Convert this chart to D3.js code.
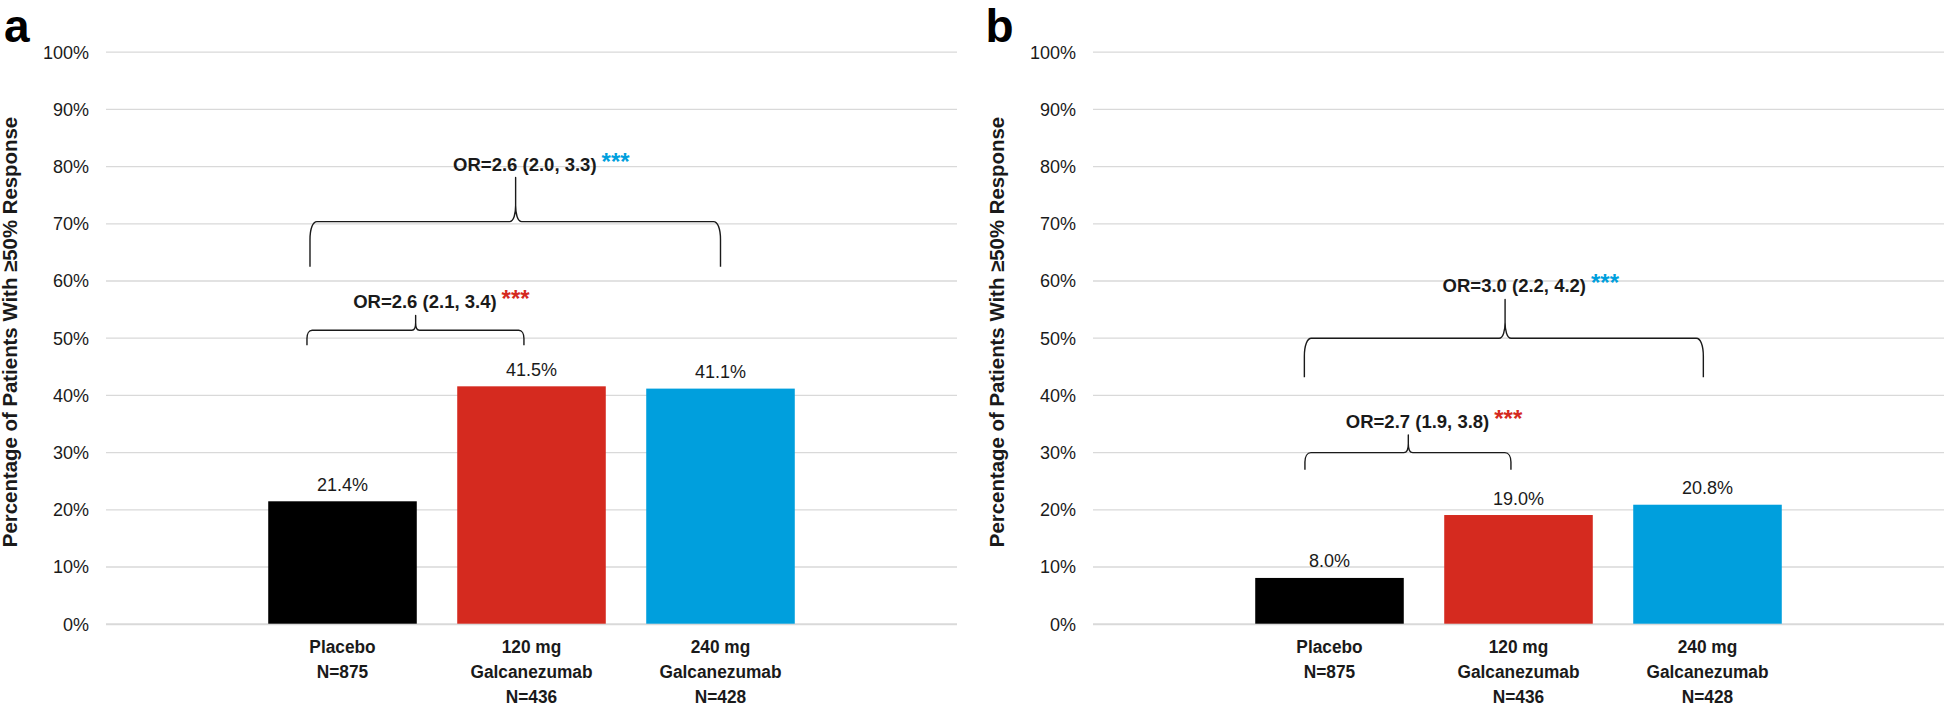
<!DOCTYPE html>
<html>
<head>
<meta charset="utf-8">
<script src="https://cdn.jsdelivr.net/npm/d3@7"></script>
<style>
  html, body { margin: 0; padding: 0; background: #ffffff; }
  svg { display: block; }
</style>
</head>
<body>
<svg id="chart" width="1947" height="709"></svg>
<script>
// ---------------- DATA ----------------
const categories = ["Placebo", "120 mg Galcanezumab", "240 mg Galcanezumab"];
const categoryLines = [["Placebo", "N=875"], ["120 mg", "Galcanezumab", "N=436"], ["240 mg", "Galcanezumab", "N=428"]];
const valuesA = [21.4, 41.5, 41.1];
const valuesB = [8.0, 19.0, 20.8];
const yTickValues = [0, 10, 20, 30, 40, 50, 60, 70, 80, 90, 100];
const yTitle = "Percentage of Patients With \u226550% Response";
const panelLetters = ["a", "b"];
const oddsRatioLabelsA = ["OR=2.6 (2.1, 3.4)", "OR=2.6 (2.0, 3.3)"];
const oddsRatioLabelsB = ["OR=2.7 (1.9, 3.8)", "OR=3.0 (2.2, 4.2)"];
const significanceMarks = ["***", "***"];
const comparedCategory = [1, 2];

// ---------------- STYLE / LAYOUT ----------------
const FONT = "'Liberation Sans', Arial, Helvetica, sans-serif";
const barColors = ["#000000", "#d52a1f", "#009fdd"];
const gridColor = "#d9d9d9";
const textColor = "#1a1a1a";

// brace geometry in (category units, % units)
const braceLayoutA = [
  {x0: -0.188, x1: 0.96, tip: 0.387, yH: 51.3, yEnd: 48.7, yTip: 53.9},
  {x0: -0.172, x1: 2.0, tip: 0.916, yH: 70.3, yEnd: 62.4, yTip: 78.0}
];
const braceLayoutB = [
  {x0: -0.13, x1: 0.96, tip: 0.417, yH: 29.9, yEnd: 26.9, yTip: 33.0},
  {x0: -0.133, x1: 1.978, tip: 0.929, yH: 49.9, yEnd: 43.1, yTip: 56.7}
];

const svg = d3.select("#chart");
const plotTop = 51.7, plotBottom = 623.7, plotWidth = 851;

const y = d3.scaleLinear().domain([0, 100]).range([plotBottom, plotTop]);

function bracePath(xL, xR, xT, yH, yE, yT) {
  const arm = yE - yH, tipLen = yH - yT;
  const r = Math.min(18, arm * 0.55), w = Math.min(7, arm * 0.35);
  const rt = Math.min(16, tipLen * 0.5), wt = Math.min(6, tipLen * 0.25);
  return [
    `M${xL},${yE}`,
    `L${xL},${yH + r}`,
    `C${xL},${yH + r * 0.4} ${xL + w * 0.4},${yH} ${xL + w},${yH}`,
    `L${xT - wt},${yH}`,
    `C${xT - wt * 0.3},${yH} ${xT},${yH - rt * 0.5} ${xT},${yH - rt}`,
    `L${xT},${yT}`,
    `L${xT},${yH - rt}`,
    `C${xT},${yH - rt * 0.5} ${xT + wt * 0.3},${yH} ${xT + wt},${yH}`,
    `L${xR - w},${yH}`,
    `C${xR - w * 0.4},${yH} ${xR},${yH + r * 0.4} ${xR},${yH + r}`,
    `L${xR},${yE}`
  ].join(" ");
}

function drawPanel(opts) {
  const left = opts.left;
  const g = svg.append("g");

  const x = d3.scaleBand()
    .domain(categories)
    .range([left + 142, left + 709])
    .paddingInner(0.214)
    .paddingOuter(0.107);

  // gridlines + y tick labels via axis
  const yAxis = d3.axisLeft(y)
    .tickValues(yTickValues)
    .tickSize(-plotWidth)
    .tickPadding(17)
    .tickFormat(d => d + "%");
  const ya = g.append("g").attr("transform", `translate(${left},0)`).call(yAxis);
  ya.select(".domain").remove();
  ya.selectAll(".tick line")
    .attr("stroke", gridColor)
    .attr("stroke-width", d => d === 0 ? 2 : 1.3);
  ya.selectAll(".tick text")
    .attr("font-family", FONT)
    .attr("font-size", 18)
    .attr("fill", textColor)
    .attr("dy", "0.35em");

  // bars
  g.append("g").selectAll("rect")
    .data(opts.values)
    .join("rect")
    .attr("x", (d, i) => x(categories[i]))
    .attr("y", d => y(d))
    .attr("width", x.bandwidth())
    .attr("height", d => y(0) - y(d))
    .attr("fill", (d, i) => barColors[i]);

  // value labels
  g.append("g").selectAll("text")
    .data(opts.values)
    .join("text")
    .attr("x", (d, i) => x(categories[i]) + x.bandwidth() / 2)
    .attr("y", d => y(d) - 10.5)
    .attr("text-anchor", "middle")
    .attr("font-family", FONT)
    .attr("font-size", 18)
    .attr("fill", textColor)
    .text(d => d3.format(".1f")(d) + "%");

  // category axis
  const xAxis = d3.axisBottom(x).tickSize(0).tickFormat("");
  const xa = g.append("g").attr("transform", `translate(0,${plotBottom})`).call(xAxis);
  xa.select(".domain").remove();
  xa.selectAll(".tick").each(function(d, i) {
    const t = d3.select(this).append("text")
      .attr("transform", "scale(0.91,1)")
      .attr("text-anchor", "middle")
      .attr("font-family", FONT)
      .attr("font-weight", "bold")
      .attr("font-size", 19)
      .attr("fill", textColor);
    categoryLines[i].forEach((line, k) => {
      t.append("tspan").attr("x", 0).attr("y", 29.6 + k * 25).text(line);
    });
  });

  // y title
  g.append("text")
    .attr("transform", `translate(${left - 89.5},${332}) rotate(-90)`)
    .attr("text-anchor", "middle")
    .attr("font-family", FONT)
    .attr("font-weight", "bold")
    .attr("font-size", 20.4)
    .attr("fill", textColor)
    .text(yTitle);

  // panel letter
  g.append("text")
    .attr("x", opts.letterX)
    .attr("y", 41.5)
    .attr("font-family", FONT)
    .attr("font-weight", "bold")
    .attr("font-size", 46)
    .attr("fill", "#000")
    .text(opts.letter);

  // braces + OR labels
  const c0 = x(categories[0]) + x.bandwidth() / 2;
  const cu = u => c0 + u * x.step();
  opts.braces.forEach((b, i) => {
    const xL = cu(b.x0), xR = cu(b.x1), xT = cu(b.tip);
    g.append("path")
      .attr("d", bracePath(xL, xR, xT, y(b.yH), y(b.yEnd), y(b.yTip)))
      .attr("fill", "none")
      .attr("stroke", "#1a1a1a")
      .attr("stroke-width", 1.4)
      .attr("stroke-linejoin", "round");
    const t = g.append("text")
      .attr("x", xT - 62.5)
      .attr("y", y(b.yTip) - 7)
      .attr("font-family", FONT)
      .attr("font-weight", "bold")
      .attr("font-size", 18.5)
      .attr("fill", textColor);
    t.append("tspan").text(opts.orLabels[i]);
    t.append("tspan")
      .attr("dx", 5)
      .attr("dy", -1)
      .attr("font-size", 24)
      .attr("fill", barColors[comparedCategory[i]])
      .text(significanceMarks[i]);
  });
}

drawPanel({left: 106, values: valuesA, letter: panelLetters[0], letterX: 4, braces: braceLayoutA, orLabels: oddsRatioLabelsA});
drawPanel({left: 1093, values: valuesB, letter: panelLetters[1], letterX: 985.5, braces: braceLayoutB, orLabels: oddsRatioLabelsB});
</script>
</body>
</html>
